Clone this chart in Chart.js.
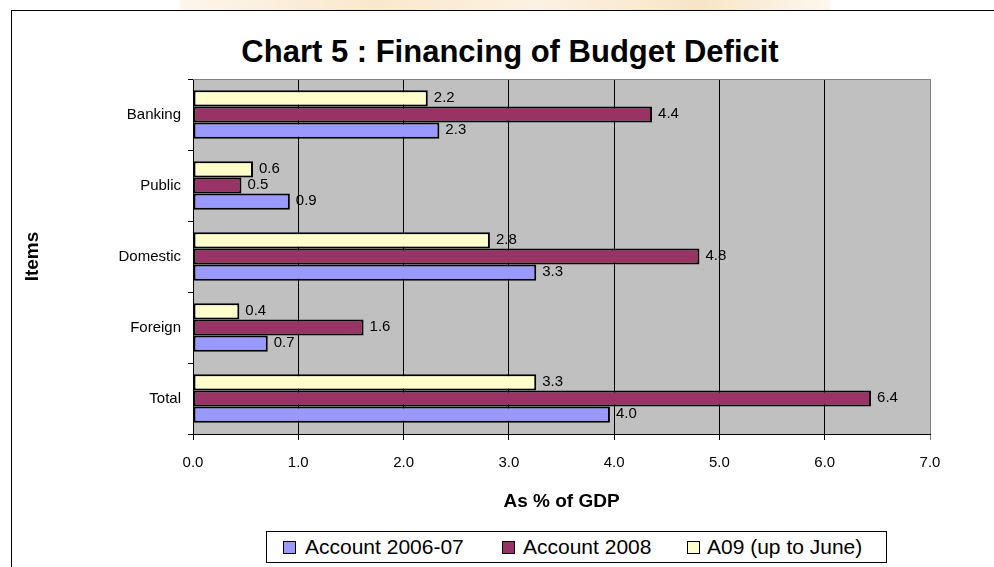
<!DOCTYPE html>
<html>
<head>
<meta charset="utf-8">
<title>Chart 5 : Financing of Budget Deficit</title>
<script src="https://cdn.jsdelivr.net/npm/chart.js@4/dist/chart.umd.min.js"></script>
<style>
    html, body {
        margin: 0;
        padding: 0;
        width: 994px;
        height: 567px;
        overflow: hidden;
        background: #fff;
        font-family: "Liberation Sans", Arial, sans-serif;
    }
    .watermark {
        position: absolute;
        left: 180px;
        top: 0;
        width: 650px;
        height: 10px;
        background: linear-gradient(90deg, #fdf6ec 0%, #f9e8cc 30%, #fcf2e2 55%, #f8e5c6 80%, #fdf8ef 100%);
    }
    .frame {
        position: absolute;
        left: 11px;
        top: 10px;
        width: 1100px;
        height: 700px;
        border: 1px solid #000;
        background: #fff;
    }
    .chart-title {
        position: absolute;
        left: 0;
        top: 36px;
        width: 1020px;
        text-align: center;
        font-size: 31px;
        line-height: 31px;
        font-weight: bold;
        color: #000;
    }
    .chart-wrap {
        position: absolute;
        left: 0;
        top: 0;
        width: 994px;
        height: 567px;
    }
    .legend {
        position: absolute;
        left: 266px;
        top: 531px;
        width: 619px;
        height: 30px;
        border: 1px solid #000;
        background: #fff;
    }
    .legend .box {
        position: absolute;
        top: 9px;
        width: 11px;
        height: 11px;
        border: 1px solid #000;
    }
    .legend .txt {
        position: absolute;
        top: 0;
        line-height: 30px;
        font-size: 21px;
        color: #000;
        white-space: nowrap;
    }
</style>
</head>
<body>
<div class="watermark"></div>
<div class="frame"></div>
<div class="chart-title">Chart 5 : Financing of Budget Deficit</div>
<div class="chart-wrap">
    <canvas id="deficitChart" width="994" height="567"></canvas>
</div>
<div class="legend" id="legend"></div>

<script>
// 数据
const categories = ['Banking', 'Public', 'Domestic', 'Foreign', 'Total'];
const acc0607 = [2.34, 0.92, 3.26, 0.71, 3.96];
const acc2008 = [4.36, 0.46, 4.81, 1.62, 6.44];
const a09 = [2.23, 0.57, 2.82, 0.44, 3.26];
const seriesNames = ['Account 2006-07', 'Account 2008', 'A09 (up to June)'];
const seriesColors = ['#9999ff', '#993366', '#ffffcc'];
const xMin = 0;
const xMax = 7;
const xStep = 1;

const FONT = '"Liberation Sans", Arial, sans-serif';

// 绘图区背景和边框
const plotBackground = {
    id: 'plotBackground',
    beforeDraw(chart) {
        const {ctx, chartArea: a} = chart;
        ctx.save();
        ctx.fillStyle = '#c0c0c0';
        ctx.fillRect(a.left, a.top, a.right - a.left, a.bottom - a.top);
        ctx.restore();
    },
    beforeDatasetsDraw(chart) {
        const {ctx, chartArea: a} = chart;
        ctx.save();
        ctx.strokeStyle = '#808080';
        ctx.lineWidth = 1;
        ctx.beginPath();
        ctx.moveTo(a.left, Math.round(a.top) + 0.5);
        ctx.lineTo(Math.round(a.right) + 0.5, Math.round(a.top) + 0.5);
        ctx.lineTo(Math.round(a.right) + 0.5, a.bottom);
        ctx.stroke();
        ctx.restore();
    }
};

// 数值标签
const valueLabels = {
    id: 'valueLabels',
    afterDatasetsDraw(chart) {
        const ctx = chart.ctx;
        ctx.save();
        ctx.font = '15px ' + FONT;
        ctx.fillStyle = '#000';
        ctx.textAlign = 'left';
        ctx.textBaseline = 'middle';
        chart.data.datasets.forEach((ds, i) => {
            chart.getDatasetMeta(i).data.forEach((bar, j) => {
                ctx.fillText(ds.data[j].toFixed(1), bar.x + 6, bar.y - 1);
            });
        });
        ctx.restore();
    }
};

// 数据集顺序：每组中从上到下为 A09, 2008, 2006-07
const datasets = [
    {label: seriesNames[2], data: a09, backgroundColor: seriesColors[2]},
    {label: seriesNames[1], data: acc2008, backgroundColor: seriesColors[1]},
    {label: seriesNames[0], data: acc0607, backgroundColor: seriesColors[0]}
].map(d => Object.assign(d, {
    borderColor: '#000',
    borderWidth: 2,
    borderSkipped: false,
    categoryPercentage: 0.68,
    barPercentage: 1.0
}));

new Chart(document.getElementById('deficitChart'), {
    type: 'bar',
    data: {
        labels: categories,
        datasets: datasets
    },
    options: {
        indexAxis: 'y',
        responsive: false,
        animation: false,
        devicePixelRatio: 1,
        layout: {
            padding: {left: 12, top: 79, right: 64, bottom: 53}
        },
        plugins: {
            legend: {display: false},
            title: {display: false},
            tooltip: {enabled: false}
        },
        scales: {
            x: {
                min: xMin,
                max: xMax,
                afterFit(scale) { scale.height = 80; },
                ticks: {
                    stepSize: xStep,
                    color: '#000',
                    padding: 14,
                    font: {family: FONT, size: 15},
                    callback: v => Number(v).toFixed(1)
                },
                grid: {
                    color: ctx => (ctx.tick && ctx.tick.value === xMax) ? '#808080' : '#000',
                    lineWidth: 1,
                    tickLength: 6
                },
                border: {color: '#000', width: 1},
                title: {
                    display: true,
                    text: 'As % of GDP',
                    color: '#000',
                    font: {family: FONT, size: 19, weight: 'bold'},
                    padding: {top: 0, bottom: 1}
                }
            },
            y: {
                afterFit(scale) { scale.width = 181; },
                ticks: {
                    color: '#000',
                    padding: 7,
                    font: {family: FONT, size: 15}
                },
                grid: {
                    drawOnChartArea: false,
                    color: '#000',
                    tickLength: 5
                },
                border: {color: '#000', width: 1},
                title: {
                    display: true,
                    text: 'Items',
                    color: '#000',
                    font: {family: FONT, size: 19, weight: 'bold'},
                    padding: {top: 9, bottom: 0}
                }
            }
        }
    },
    plugins: [plotBackground, valueLabels]
});

// 图例（按原图顺序）
const legendEl = document.getElementById('legend');
const legendBoxX = [16, 235, 420];
const legendTextX = [38, 256, 440];
seriesNames.forEach((name, i) => {
    const box = document.createElement('div');
    box.className = 'box';
    box.style.left = legendBoxX[i] + 'px';
    box.style.background = seriesColors[i];
    legendEl.appendChild(box);

    const txt = document.createElement('div');
    txt.className = 'txt';
    txt.style.left = legendTextX[i] + 'px';
    txt.textContent = name;
    legendEl.appendChild(txt);
});
</script>
</body>
</html>
